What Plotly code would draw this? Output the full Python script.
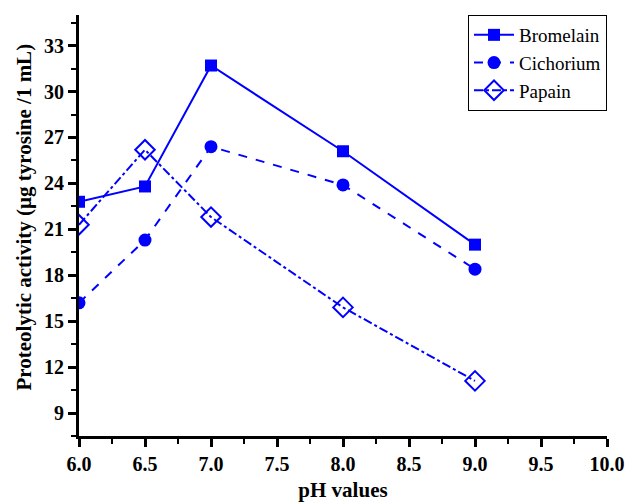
import plotly.graph_objects as go

ph = [6.0, 6.5, 7.0, 8.0, 9.0]
bromelain = [22.8, 23.8, 31.7, 26.1, 20.0]
cichorium = [16.2, 20.3, 26.4, 23.9, 18.4]
papain = [21.3, 26.2, 21.8, 15.9, 11.1]

BLUE = "#0000ff"
FONT = "Liberation Serif"

fig = go.Figure()
fig.add_trace(go.Scatter(x=ph, y=bromelain, name="Bromelain", mode="lines+markers",
                         line=dict(color=BLUE, width=2, dash="solid"),
                         marker=dict(symbol="square", size=12, color=BLUE)))
fig.add_trace(go.Scatter(x=ph, y=cichorium, name="Cichorium", mode="lines+markers",
                         line=dict(color=BLUE, width=2, dash="dash"),
                         marker=dict(symbol="circle", size=13, color=BLUE)))
fig.add_trace(go.Scatter(x=ph, y=papain, name="Papain", mode="lines+markers",
                         line=dict(color=BLUE, width=2, dash="dashdot"),
                         marker=dict(symbol="diamond-open", size=15, color=BLUE,
                                     line=dict(width=2, color=BLUE))))

fig.update_layout(
    width=627, height=502,
    margin=dict(l=79, r=20, t=15, b=66),
    plot_bgcolor="white", paper_bgcolor="white",
    font=dict(family=FONT, color="black"),
    legend=dict(x=1.0, y=1.0, xanchor="right", yanchor="top",
                bordercolor="black", borderwidth=1, bgcolor="white",
                font=dict(family=FONT, size=19, color="black"),
                tracegroupgap=0, itemwidth=40),
    xaxis=dict(range=[6.0, 10.0], dtick=0.5, tick0=6.0, tickformat=".1f", automargin=False,
               showgrid=False, zeroline=False, showline=True, linecolor="black", linewidth=3,
               ticks="outside", ticklen=8, tickwidth=3, tickcolor="black",
               minor=dict(ticks="outside", dtick=0.25, ticklen=5, tickwidth=2, tickcolor="black"),
               tickfont=dict(family=FONT, size=20, color="black", weight="bold"),
               title=dict(text="<b>pH values</b>", font=dict(family=FONT, size=21))),
    yaxis=dict(range=[7.5, 35], dtick=3, tick0=0, automargin=False,
               showgrid=False, zeroline=False, showline=True, linecolor="black", linewidth=3,
               ticks="outside", ticklen=8, tickwidth=3, tickcolor="black",
               minor=dict(ticks="outside", dtick=1.5, ticklen=5, tickwidth=2, tickcolor="black"),
               tickfont=dict(family=FONT, size=20, color="black", weight="bold")),
    annotations=[dict(text="<b>Proteolytic activity (µg tyrosine /1 mL)</b>",
                      textangle=-90, xref="paper", yref="paper", x=-0.106, y=0.519,
                      xanchor="center", yanchor="middle", showarrow=False,
                      font=dict(family=FONT, size=21, color="black"))],
)

fig.write_html("out.html")
